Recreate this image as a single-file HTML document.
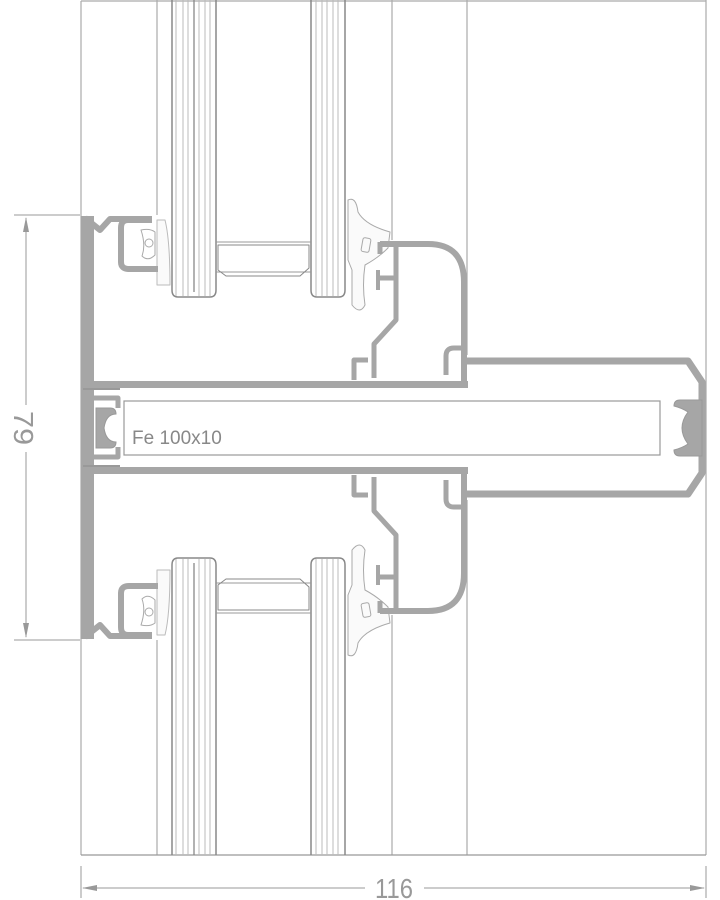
<!DOCTYPE html>
<html><head><meta charset="utf-8"><style>
html,body{margin:0;padding:0;background:#fff;}
svg{display:block;}
</style></head><body>
<svg width="720" height="900" viewBox="0 0 720 900" xmlns="http://www.w3.org/2000/svg">
<defs>
<g id="half" fill="none" stroke-linejoin="round">
  <g stroke="#999" stroke-width="1">
    <path d="M172,0 V290 Q172,297 178,297 H210 Q216,297 216,290 V0" stroke="#888" stroke-width="1.5"/>
    <line x1="176" y1="0" x2="176" y2="296" stroke="#bbb"/>
    <line x1="183" y1="0" x2="183" y2="296" stroke="#bbb"/>
    <line x1="188" y1="0" x2="188" y2="296" stroke="#bbb"/>
    <line x1="194" y1="0" x2="194" y2="292" stroke="#888" stroke-width="1.3"/>
    <line x1="199" y1="0" x2="199" y2="296" stroke="#bbb"/>
    <line x1="205" y1="0" x2="205" y2="296" stroke="#bbb"/>
    <line x1="210" y1="0" x2="210" y2="296" stroke="#bbb"/>
    <path d="M311,0 V290 Q311,297 317,297 H339 Q345,297 345,290 V0" stroke="#888" stroke-width="1.5"/>
    <line x1="316" y1="0" x2="316" y2="296" stroke="#bbb"/>
    <line x1="322" y1="0" x2="322" y2="296" stroke="#bbb"/>
    <line x1="327" y1="0" x2="327" y2="296" stroke="#bbb"/>
    <line x1="333" y1="0" x2="333" y2="296" stroke="#bbb"/>
    <line x1="338" y1="0" x2="338" y2="296" stroke="#bbb"/>
    <path d="M216,242 H311 M216,272 H311"/>
    <path d="M218,245 H309 V268 L300,276 H226 L218,270 Z" stroke="#888"/>
  </g>
  <path d="M157,270 V220 H165 Q170,240 170,285 H157 Z" stroke="#bbb" stroke-width="1" fill="#fafafa"/>
  <path d="M141,230 Q150,228 155,232 V255 Q148,262 142,256 Q146,245 141,230 Z" stroke="#aaa" stroke-width="1" fill="#fff"/>
  <circle cx="149" cy="243" r="4" stroke="#aaa" stroke-width="1"/>
  <path d="M348,200 Q356,196 358,212 Q365,225 390,232 L388,248 Q378,258 365,265 Q362,285 365,305 Q360,315 352,305 V270 L348,260 Z" stroke="#aaa" stroke-width="1" fill="#fafafa"/>
  <rect x="362" y="238" width="8" height="14" rx="2" stroke="#aaa" stroke-width="1" transform="rotate(10 366 245)"/>
  <g stroke="#a6a6a6">
    <line x1="87.5" y1="216" x2="87.5" y2="430" stroke-width="13"/>
    <path d="M85,218 L100,230 L110,219 H152" stroke-width="6"/>
    <path d="M152,220 H128 Q121,220 121,228 V262 Q121,269 129,269 H158" stroke-width="6"/>
    <line x1="94" y1="384.5" x2="468" y2="384.5" stroke-width="7"/>
    <path d="M380,244 H428 Q464,244 464,282 V385" stroke-width="6"/>
    <path d="M396,246 V320 L374,344 V378" stroke-width="5"/>
    <path d="M376,278 H394" stroke-width="5"/>
    <path d="M378,270 V290" stroke-width="4"/>
    <path d="M380,242 V254" stroke-width="5"/>
    <path d="M354,380 V360 H368" stroke-width="5"/>
    <path d="M446,375 V356 Q446,348 454,348 H464" stroke-width="5"/>
    <path d="M464,361 H688 L702,382 V430" stroke-width="7"/>
    <path d="M94,398 H118 V408" stroke-width="5"/>
  </g>
  <path d="M83,389 H120" stroke="#999" stroke-width="2"/>
</g>
</defs>

<g stroke="#aaa" stroke-width="1.2" fill="none">
  <line x1="81" y1="1" x2="706" y2="1"/>
  <line x1="81" y1="1" x2="81" y2="855"/>
  <line x1="157" y1="0" x2="157" y2="215"/>
  <line x1="157" y1="640" x2="157" y2="855"/>
  <line x1="392" y1="0" x2="392" y2="240"/>
  <line x1="392" y1="615" x2="392" y2="855"/>
  <line x1="467" y1="0" x2="467" y2="355"/>
  <line x1="467" y1="500" x2="467" y2="855"/>
  <line x1="706" y1="0" x2="706" y2="855"/>
  <line x1="81" y1="855" x2="706" y2="855" stroke="#999"/>
</g>

<use href="#half"/>
<use href="#half" transform="translate(0,855) scale(1,-1)"/>

<path d="M96,408 H110 Q116,408 116,414 Q106,414 104,428 Q106,442 116,442 Q116,448 110,448 H96 Z" fill="#a6a6a6" stroke="#999"/>

<rect x="124" y="401" width="536" height="54" fill="#fff" stroke="#999" stroke-width="1.2"/>
<text x="132" y="444" font-family="Liberation Sans, sans-serif" font-size="19" fill="#888">Fe 100x10</text>
<path d="M702,400 V456 H680 Q674,456 674,450 Q682,448 688,444 Q682,436 682,428 Q682,420 688,412 Q682,408 674,406 Q674,400 680,400 Z" fill="#a6a6a6" stroke="#999"/>

<g stroke="#999" stroke-width="1" fill="#999">
  <line x1="14" y1="215" x2="80" y2="215"/>
  <line x1="14" y1="640" x2="80" y2="640"/>
  <line x1="26" y1="218" x2="26" y2="405"/>
  <line x1="26" y1="452" x2="26" y2="637"/>
  <path d="M26,217 L23,232 L29,232 Z" stroke="none"/>
  <path d="M26,638 L23,623 L29,623 Z" stroke="none"/>
  <line x1="81" y1="866" x2="81" y2="898"/>
  <line x1="706" y1="866" x2="706" y2="898"/>
  <line x1="83" y1="888" x2="365" y2="888"/>
  <line x1="424" y1="888" x2="704" y2="888"/>
  <path d="M82,888 L97,885 L97,891 Z" stroke="none"/>
  <path d="M705,888 L690,885 L690,891 Z" stroke="none"/>
</g>
<text x="394" y="898" text-anchor="middle" font-family="Liberation Sans, sans-serif" font-size="28" fill="#999" transform="translate(394 0) scale(0.85 1) translate(-394 0)">116</text>
<text x="0" y="0" text-anchor="middle" font-family="Liberation Sans, sans-serif" font-size="28" fill="#999" transform="translate(14 428) rotate(90) scale(1.1 1)">79</text>
</svg>
</body></html>
